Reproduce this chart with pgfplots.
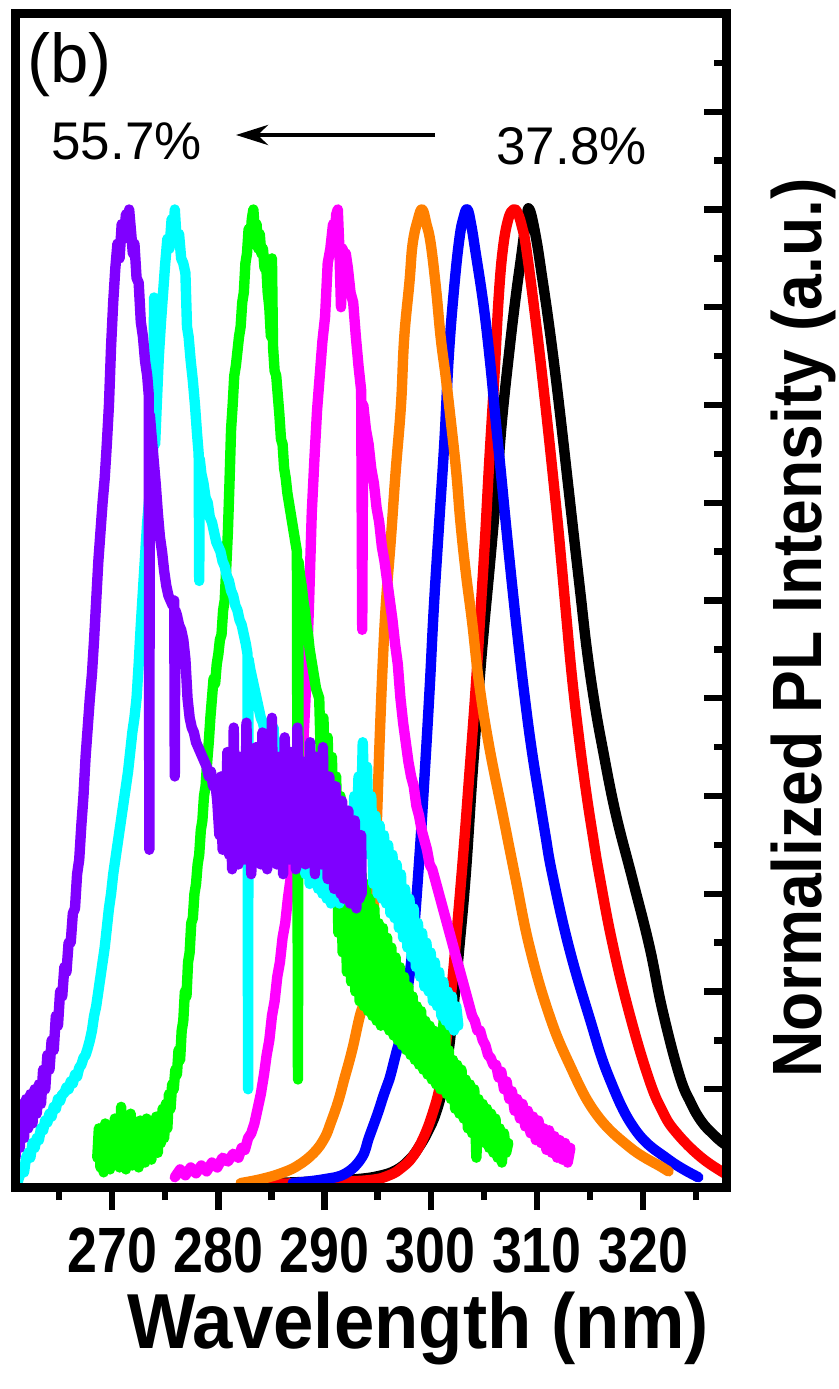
\documentclass[border=0pt]{standalone}
\usepackage{fontspec}
\setmainfont{Liberation Sans}
\newfontfamily\tickfont{Liberation Sans}[FakeStretch=0.84]
\newfontfamily\ylabfont{Liberation Sans}[FakeStretch=0.92]
\newfontfamily\xlabfont{Liberation Sans}[FakeStretch=0.93]
\usepackage{pgfplots}
\pgfplotsset{compat=1.18}
\usetikzlibrary{arrows.meta}

\definecolor{plviolet}{RGB}{127,0,255}
\definecolor{plcyan}{RGB}{0,255,255}
\definecolor{plgreen}{RGB}{0,255,0}
\definecolor{plmagenta}{RGB}{255,0,255}
\definecolor{plorange}{RGB}{255,128,0}
\definecolor{plblue}{RGB}{0,0,255}
\definecolor{plred}{RGB}{255,0,0}

\tikzset{
  specline/.style={line width=5.2pt, line join=round, line cap=round, mark=none},
  smoothspec/.style={specline, smooth, tension=0.7},
}

\begin{document}
\begin{tikzpicture}
\useasboundingbox (0,0) rectangle (419.5pt,694.5pt);
\begin{axis}[
  at={(7.75pt,101pt)}, anchor=south west,
  width=355.75pt, height=586.5pt, scale only axis,
  xmin=260.9, xmax=327.9, ymin=0, ymax=1.2,
  axis on top,
  axis line style={line width=4.5pt},
  xtick={270,280,290,300,310,320},
  minor xtick={265,275,285,295,305,315,325},
  ytick={0,0.1,0.2,0.3,0.4,0.5,0.6,0.7,0.8,0.9,1.0,1.1},
  minor ytick={0.05,0.15,0.25,0.35,0.45,0.55,0.65,0.75,0.85,0.95,1.05,1.15},
  yticklabels={},
  xtick pos=bottom, ytick pos=right,
  xtick align=outside, ytick align=inside,
  major tick length=11.5pt, minor tick length=6.5pt,
  tick style={line width=3.2pt, black},
  /pgf/number format/assume math mode=true,
  xticklabel style={font={\tickfont\fontsize{32pt}{33pt}\selectfont\bfseries},
    anchor=north, inner sep=0pt, yshift=-8.5pt},
]
% black
\addplot[black, smoothspec] table {
285.0 0.004
290.0 0.006
293.0 0.008
295.0 0.011
296.7 0.017
298.0 0.028
298.9 0.041
299.7 0.056
300.5 0.076
301.2 0.105
301.7 0.140
302.2 0.190
302.7 0.246
303.3 0.320
303.9 0.417
304.5 0.505
305.0 0.570
305.6 0.640
306.2 0.714
306.7 0.783
307.4 0.855
308.0 0.910
308.5 0.950
309.0 0.990
309.3 1.000
309.9 0.972
310.5 0.930
311.1 0.885
311.7 0.835
312.3 0.780
312.9 0.722
313.5 0.664
314.1 0.607
314.7 0.550
315.4 0.497
316.15 0.451
317.4 0.383
319.0 0.315
320.6 0.246
321.8 0.182
323.4 0.115
324.5 0.086
325.5 0.067
326.5 0.055
327.4 0.046
328.0 0.042
};
% red
\addplot[plred, smoothspec] table {
285.0 0.003
290.0 0.005
294.2 0.007
296.1 0.012
297.3 0.020
298.3 0.031
299.3 0.050
300.2 0.076
300.9 0.105
301.4 0.143
301.8 0.185
302.2 0.230
303.0 0.332
303.6 0.417
304.2 0.505
304.7 0.590
305.1 0.660
305.5 0.740
306.0 0.830
306.4 0.910
306.8 0.960
307.3 0.990
307.8 1.000
308.2 0.996
308.6 0.982
309.0 0.960
309.9 0.885
310.8 0.800
311.8 0.697
312.3 0.640
312.8 0.580
313.3 0.522
313.9 0.465
314.6 0.407
315.3 0.357
315.9 0.318
317.1 0.250
318.7 0.178
320.5 0.112
321.8 0.078
323.1 0.056
325.5 0.030
328.0 0.012
};
% blue
\addplot[plblue, smoothspec] table {
287.0 0.004
290.0 0.008
292.0 0.014
293.5 0.030
294.2 0.051
295.0 0.075
295.6 0.095
296.1 0.110
296.7 0.135
297.3 0.161
297.8 0.200
298.3 0.246
298.9 0.332
299.4 0.417
299.9 0.510
300.3 0.594
300.8 0.680
301.3 0.765
301.7 0.850
302.2 0.919
302.7 0.970
303.1 0.992
303.45 1.000
303.8 0.985
304.2 0.958
305.0 0.900
305.65 0.838
306.1 0.786
306.6 0.732
307.1 0.676
307.7 0.612
308.3 0.552
308.9 0.497
309.5 0.448
310.2 0.400
310.8 0.360
311.45 0.320
313.0 0.246
314.9 0.175
316.8 0.112
319.3 0.058
322.4 0.028
325.2 0.010
};
% orange
\addplot[plorange, smoothspec] table {
282.1 0.004
284.0 0.008
285.9 0.014
287.5 0.022
289.0 0.035
290.0 0.050
290.6 0.066
291.3 0.088
291.85 0.110
292.6 0.140
293.4 0.178
294.0 0.195
294.4 0.240
294.7 0.300
294.95 0.380
295.2 0.460
295.5 0.540
295.8 0.600
296.25 0.663
296.7 0.732
297.2 0.800
297.5 0.868
298.0 0.926
298.3 0.965
298.8 0.990
299.2 1.000
299.6 0.985
300.0 0.965
300.5 0.919
300.95 0.868
301.4 0.830
301.9 0.783
302.4 0.732
302.8 0.680
303.3 0.629
303.9 0.578
304.55 0.516
305.5 0.451
306.75 0.383
308.0 0.315
309.3 0.246
311.1 0.178
313.0 0.127
315.5 0.076
318.7 0.041
321.8 0.020
322.4 0.016
};
% magenta
\addplot[plmagenta, specline] table {
275.90 0.010
276.40 0.018
276.90 0.012
277.40 0.020
277.90 0.014
278.40 0.022
278.90 0.016
279.40 0.025
279.90 0.020
280.40 0.030
280.90 0.026
281.40 0.034
281.90 0.030
282.20 0.040
282.50 0.038
282.80 0.050
283.10 0.055
283.40 0.065
283.70 0.080
284.00 0.095
284.30 0.115
284.55 0.135
284.80 0.150
285.05 0.175
285.30 0.190
285.55 0.215
285.80 0.230
286.05 0.255
286.30 0.270
286.55 0.295
286.80 0.315
287.05 0.335
287.30 0.345
287.55 0.375
287.80 0.410
288.05 0.465
288.30 0.520
288.55 0.600
288.80 0.690
289.05 0.745
289.30 0.795
289.55 0.830
289.80 0.865
290.05 0.890
290.30 0.945
290.55 0.960
290.80 0.985
290.95 0.970
291.10 0.995
291.25 1.000
291.40 0.960
291.55 0.900
291.70 0.960
291.85 0.950
292.00 0.955
292.20 0.940
292.45 0.915
292.70 0.905
292.95 0.870
293.20 0.840
293.45 0.815
293.55 0.570
293.65 0.800
293.90 0.775
294.15 0.760
294.40 0.735
294.65 0.720
294.90 0.695
295.15 0.680
295.40 0.655
295.65 0.640
295.90 0.620
296.15 0.600
296.40 0.580
296.65 0.555
296.90 0.535
297.15 0.500
297.40 0.475
297.65 0.455
297.90 0.435
298.15 0.420
298.40 0.410
298.65 0.390
298.90 0.380
299.15 0.365
299.40 0.355
299.65 0.345
299.90 0.330
300.15 0.325
300.40 0.315
300.65 0.305
300.90 0.295
301.15 0.285
301.40 0.275
301.65 0.265
301.90 0.255
302.15 0.245
302.40 0.235
302.65 0.225
302.90 0.215
303.15 0.205
303.40 0.195
303.65 0.185
303.90 0.175
304.15 0.170
304.40 0.160
304.65 0.160
304.90 0.150
305.15 0.145
305.40 0.135
305.65 0.132
305.90 0.125
306.15 0.125
306.40 0.112
306.65 0.118
306.90 0.100
307.15 0.108
307.40 0.090
307.65 0.098
307.90 0.078
308.15 0.090
308.40 0.070
308.65 0.085
308.90 0.062
309.15 0.078
309.40 0.055
309.65 0.072
309.90 0.048
310.15 0.068
310.40 0.045
310.65 0.060
310.90 0.038
311.15 0.058
311.40 0.035
311.65 0.052
311.90 0.030
312.15 0.048
312.40 0.028
312.65 0.045
312.90 0.025
313.15 0.040
};
% green
\addplot[plgreen, specline] table {
268.60 0.030
268.75 0.060
268.90 0.020
269.05 0.055
269.20 0.015
269.35 0.065
269.50 0.025
269.65 0.050
269.80 0.018
269.95 0.060
270.10 0.022
270.25 0.070
270.40 0.030
270.55 0.058
270.70 0.020
270.85 0.082
271.00 0.028
271.15 0.055
271.30 0.018
271.45 0.065
271.60 0.030
271.75 0.075
271.90 0.022
272.05 0.060
272.20 0.035
272.35 0.055
272.50 0.020
272.65 0.068
272.80 0.030
272.95 0.058
273.10 0.025
273.25 0.070
273.40 0.035
273.55 0.060
273.70 0.028
273.85 0.065
274.00 0.040
274.15 0.072
274.30 0.035
274.45 0.068
274.60 0.045
274.75 0.080
274.90 0.050
275.05 0.085
275.20 0.060
275.35 0.095
275.50 0.080
275.65 0.105
275.80 0.100
275.95 0.120
276.10 0.115
276.25 0.140
276.40 0.130
276.55 0.160
276.70 0.170
276.85 0.200
277.00 0.195
277.15 0.230
277.30 0.240
277.45 0.270
277.60 0.275
277.75 0.300
277.90 0.310
278.05 0.330
278.20 0.340
278.35 0.365
278.50 0.375
278.65 0.400
278.80 0.410
278.95 0.435
279.10 0.455
279.25 0.480
279.40 0.500
279.55 0.520
279.70 0.515
279.85 0.535
280.00 0.545
280.15 0.560
280.30 0.565
280.45 0.590
280.60 0.600
280.75 0.635
280.90 0.670
281.05 0.720
281.20 0.775
281.35 0.800
281.50 0.830
281.65 0.840
281.80 0.855
281.95 0.870
282.10 0.880
282.25 0.905
282.40 0.915
282.55 0.945
282.70 0.955
282.85 0.980
283.00 0.965
283.15 0.990
283.30 1.000
283.45 0.975
283.60 0.985
283.75 0.960
283.90 0.975
284.05 0.955
284.20 0.960
284.35 0.940
284.50 0.945
284.65 0.915
284.80 0.900
284.95 0.870
285.05 0.950
285.15 0.860
285.30 0.835
285.45 0.830
285.60 0.810
285.75 0.790
285.90 0.765
286.05 0.760
286.20 0.735
286.35 0.725
286.50 0.710
286.65 0.700
286.80 0.690
286.95 0.680
287.10 0.670
287.25 0.660
287.40 0.650
287.50 0.110
287.55 0.640
287.70 0.625
287.85 0.615
288.00 0.600
288.15 0.590
288.30 0.575
288.45 0.565
288.60 0.550
288.75 0.540
288.90 0.530
289.05 0.520
289.20 0.510
289.35 0.505
289.50 0.500
289.70 0.420
289.90 0.480
290.10 0.380
290.30 0.460
290.50 0.330
290.70 0.440
290.90 0.300
291.10 0.420
291.30 0.260
291.50 0.400
291.70 0.240
291.90 0.380
292.10 0.220
292.30 0.360
292.50 0.210
292.70 0.345
292.90 0.200
293.10 0.330
293.30 0.190
293.50 0.320
293.70 0.185
293.90 0.310
294.10 0.180
294.30 0.295
294.50 0.175
294.70 0.285
294.90 0.170
295.10 0.270
295.30 0.165
295.50 0.265
295.70 0.165
295.90 0.255
296.10 0.160
296.30 0.245
296.50 0.155
296.70 0.235
296.90 0.150
297.10 0.225
297.30 0.145
297.50 0.215
297.70 0.140
297.90 0.205
298.10 0.135
298.30 0.195
298.50 0.130
298.70 0.185
298.90 0.125
299.10 0.180
299.30 0.120
299.50 0.170
299.70 0.115
299.90 0.165
300.10 0.110
300.30 0.160
300.50 0.105
300.70 0.150
300.90 0.100
301.10 0.145
301.30 0.190
301.50 0.095
301.70 0.140
301.90 0.090
302.10 0.130
302.30 0.080
302.50 0.125
302.70 0.075
302.90 0.120
303.10 0.070
303.30 0.110
303.50 0.060
303.70 0.105
303.90 0.055
304.10 0.100
304.30 0.030
304.50 0.090
304.70 0.050
304.90 0.085
305.10 0.045
305.30 0.080
305.50 0.040
305.70 0.075
305.90 0.035
306.10 0.070
306.30 0.030
306.50 0.060
306.70 0.025
306.90 0.055
307.10 0.035
307.30 0.045
};
% cyan
\addplot[plcyan, specline] table {
261.10 0.005
261.30 0.012
261.50 0.020
261.70 0.015
261.90 0.030
262.10 0.035
262.30 0.030
262.50 0.045
262.70 0.040
262.90 0.050
263.10 0.048
263.30 0.060
263.50 0.058
263.70 0.068
263.90 0.066
264.10 0.075
264.30 0.072
264.50 0.082
264.70 0.080
264.90 0.090
265.10 0.088
265.30 0.095
265.50 0.096
265.70 0.102
265.90 0.100
266.10 0.108
266.30 0.106
266.50 0.115
266.70 0.113
266.90 0.122
267.10 0.125
267.30 0.132
267.50 0.135
267.70 0.142
267.90 0.150
268.10 0.160
268.30 0.175
268.50 0.185
268.70 0.200
268.90 0.215
269.10 0.230
269.30 0.245
269.50 0.265
269.70 0.285
269.90 0.300
270.10 0.320
270.30 0.335
270.50 0.350
270.70 0.365
270.90 0.380
271.10 0.395
271.30 0.410
271.50 0.425
271.70 0.445
271.90 0.465
272.10 0.480
272.30 0.500
272.50 0.535
272.70 0.575
272.90 0.610
273.10 0.645
273.30 0.680
273.50 0.705
273.70 0.730
273.85 0.750
273.95 0.910
274.05 0.760
274.20 0.800
274.40 0.850
274.60 0.885
274.80 0.915
275.00 0.945
275.20 0.970
275.40 0.960
275.60 0.990
275.80 0.975
275.90 1.000
276.10 0.965
276.30 0.975
276.50 0.950
276.70 0.945
276.90 0.935
277.05 0.880
277.20 0.870
277.40 0.845
277.60 0.825
277.80 0.800
278.00 0.770
278.15 0.750
278.20 0.620
278.25 0.745
278.40 0.730
278.60 0.720
278.80 0.705
279.00 0.700
279.20 0.685
279.40 0.680
279.60 0.670
279.80 0.660
280.00 0.655
280.20 0.650
280.40 0.640
280.60 0.635
280.80 0.625
281.00 0.620
281.20 0.610
281.40 0.605
281.60 0.595
281.80 0.590
282.00 0.580
282.20 0.575
282.40 0.565
282.60 0.555
282.75 0.545
282.80 0.100
282.85 0.540
283.00 0.530
283.20 0.520
283.40 0.510
283.60 0.500
283.80 0.490
284.00 0.480
284.20 0.475
284.40 0.465
284.60 0.460
284.80 0.455
285.00 0.450
285.20 0.470
285.40 0.420
285.60 0.455
285.80 0.400
286.00 0.445
286.20 0.395
286.40 0.440
286.60 0.380
286.80 0.430
287.00 0.370
287.20 0.415
287.40 0.345
287.60 0.400
287.80 0.330
288.00 0.395
288.20 0.320
288.40 0.390
288.60 0.310
288.80 0.380
289.00 0.315
289.20 0.385
289.40 0.305
289.60 0.370
289.80 0.300
290.00 0.375
290.20 0.295
290.40 0.365
290.60 0.290
290.80 0.360
291.00 0.295
291.20 0.355
291.40 0.290
291.60 0.365
291.80 0.300
292.00 0.370
292.20 0.310
292.40 0.385
292.60 0.330
292.80 0.400
293.00 0.345
293.20 0.420
293.40 0.360
293.60 0.455
293.80 0.370
294.00 0.430
294.20 0.340
294.40 0.400
294.60 0.310
294.80 0.380
295.00 0.300
295.20 0.370
295.40 0.295
295.60 0.360
295.80 0.290
296.00 0.350
296.20 0.280
296.40 0.340
296.60 0.275
296.80 0.330
297.00 0.265
297.20 0.320
297.40 0.255
297.60 0.305
297.80 0.245
298.00 0.295
298.20 0.235
298.40 0.285
298.60 0.225
298.80 0.270
299.00 0.215
299.20 0.260
299.40 0.205
299.60 0.250
299.80 0.200
300.00 0.240
300.20 0.190
300.40 0.230
300.60 0.185
300.80 0.220
301.00 0.175
301.20 0.210
301.40 0.170
301.60 0.200
301.80 0.165
302.00 0.195
302.20 0.160
302.40 0.185
302.60 0.165
};
% violet
\addplot[plviolet, specline] table {
260.90 0.030
261.10 0.075
261.30 0.040
261.50 0.085
261.70 0.050
261.90 0.090
262.10 0.060
262.30 0.095
262.50 0.065
262.70 0.100
262.90 0.075
263.10 0.105
263.30 0.085
263.50 0.120
263.70 0.100
263.90 0.135
264.10 0.120
264.30 0.150
264.50 0.140
264.70 0.175
264.90 0.165
265.10 0.200
265.30 0.195
265.50 0.225
265.70 0.220
265.90 0.250
266.10 0.250
266.30 0.280
266.50 0.285
266.70 0.320
266.90 0.335
267.10 0.370
267.30 0.400
267.50 0.440
267.70 0.470
267.90 0.500
268.10 0.525
268.30 0.560
268.50 0.600
268.70 0.640
268.90 0.670
269.10 0.700
269.30 0.725
269.50 0.760
269.70 0.800
269.90 0.860
270.10 0.905
270.30 0.940
270.50 0.965
270.70 0.950
270.90 0.985
271.10 0.970
271.30 0.995
271.50 0.975
271.60 1.000
271.80 0.975
271.95 0.955
272.10 0.965
272.30 0.930
272.50 0.925
272.70 0.885
272.90 0.870
273.10 0.845
273.30 0.830
273.45 0.810
273.50 0.345
273.55 0.790
273.70 0.770
273.90 0.745
274.10 0.720
274.30 0.690
274.50 0.665
274.70 0.650
274.90 0.630
275.10 0.615
275.30 0.605
275.50 0.600
275.70 0.595
275.85 0.600
275.90 0.420
275.95 0.590
276.10 0.585
276.30 0.575
276.50 0.570
276.70 0.560
276.90 0.540
277.10 0.500
277.30 0.480
277.50 0.470
277.70 0.465
277.90 0.455
278.10 0.450
278.30 0.445
278.50 0.440
278.70 0.435
278.90 0.430
279.10 0.420
279.30 0.425
279.50 0.410
279.70 0.415
279.90 0.395
280.10 0.360
280.25 0.420
280.40 0.345
280.55 0.400
280.70 0.350
280.85 0.445
281.00 0.340
281.15 0.395
281.30 0.325
281.45 0.470
281.60 0.355
281.75 0.410
281.90 0.330
282.05 0.440
282.20 0.345
282.35 0.395
282.50 0.335
282.65 0.475
282.80 0.350
282.95 0.420
283.10 0.320
283.25 0.400
283.40 0.355
283.55 0.450
283.70 0.340
283.85 0.410
284.00 0.330
284.15 0.465
284.30 0.345
284.45 0.395
284.60 0.325
284.75 0.430
284.90 0.360
285.05 0.480
285.20 0.340
285.35 0.405
285.50 0.330
285.65 0.440
285.80 0.350
285.95 0.400
286.10 0.320
286.25 0.460
286.40 0.345
286.55 0.415
286.70 0.335
286.85 0.445
287.00 0.350
287.15 0.395
287.30 0.325
287.45 0.470
287.60 0.345
287.75 0.420
287.90 0.340
288.05 0.435
288.20 0.330
288.35 0.400
288.50 0.345
288.65 0.455
288.80 0.335
288.95 0.410
289.10 0.320
289.25 0.440
289.40 0.340
289.55 0.395
289.70 0.330
289.85 0.450
290.00 0.335
290.15 0.405
290.30 0.315
290.45 0.420
290.60 0.330
290.75 0.390
290.90 0.305
291.05 0.410
291.20 0.320
291.35 0.380
291.50 0.300
291.65 0.395
291.80 0.295
291.95 0.370
292.10 0.310
292.25 0.385
292.40 0.290
292.55 0.360
292.70 0.300
292.85 0.375
293.00 0.285
293.15 0.350
293.30 0.295
293.45 0.360
293.50 0.300
};
\end{axis}
% panel tag, arrow and annotations
\node[anchor=base west, inner sep=0pt, font=\fontsize{34.5pt}{36pt}\selectfont] at (13.5pt,653pt) {(b)};
\node[anchor=base west, inner sep=0pt, font=\fontsize{26.5pt}{28pt}\selectfont] at (25.5pt,614.5pt) {55.7\%};
\node[anchor=base west, inner sep=0pt, font=\fontsize{26.5pt}{28pt}\selectfont] at (248pt,612pt) {37.8\%};
\draw[line width=2.4pt, -{Stealth[length=16pt, width=10pt]}] (217.5pt,627pt) -- (118pt,627pt);
% axis titles
\node[anchor=base, inner sep=0pt, font={\xlabfont\fontsize{39pt}{41pt}\selectfont\bfseries}] at (209pt,20pt) {Wavelength (nm)};
\node[anchor=base, rotate=90, inner sep=0pt, font={\ylabfont\fontsize{34.9pt}{36pt}\selectfont\bfseries}] at (410.5pt,380.5pt) {Normalized PL Intensity (a.u.)};
\end{tikzpicture}
\end{document}
